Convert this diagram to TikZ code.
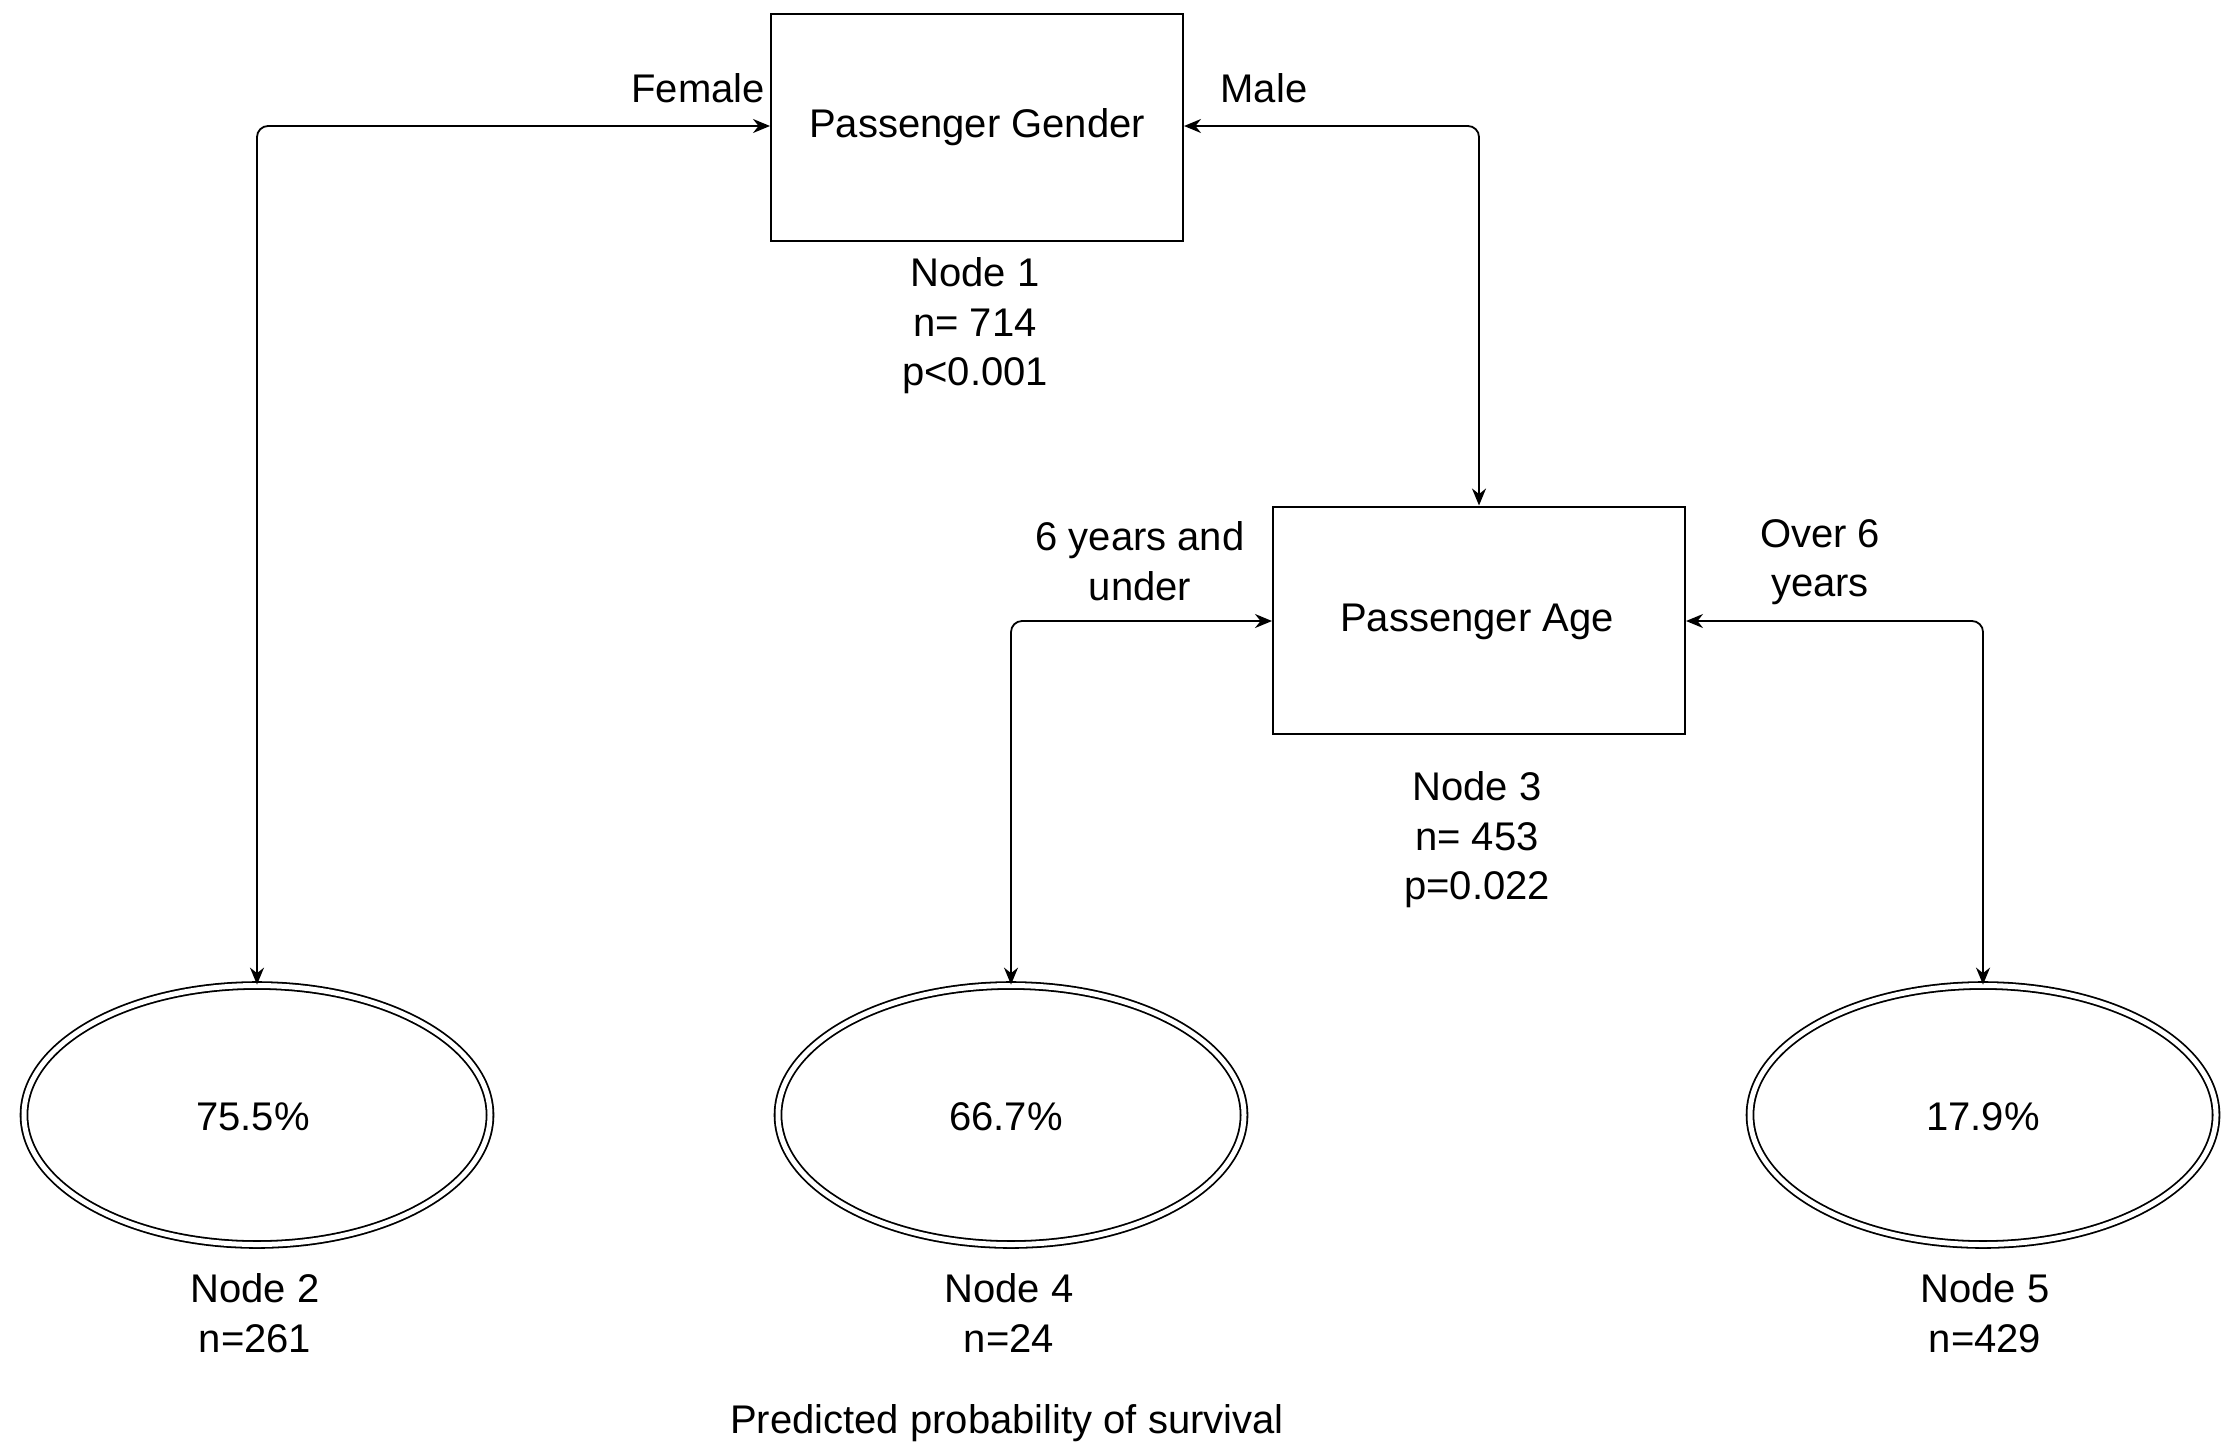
\documentclass[tikz,border=0pt]{standalone}
\usepackage{fontspec}
\setmainfont{Liberation Sans}
\usetikzlibrary{shapes.geometric,arrows.meta}
\begin{document}
\begin{tikzpicture}[x=1pt,y=-1pt,
  every node/.style={font=\fontsize{40}{49.5}\selectfont, inner sep=0pt},
  splitbox/.style={draw, line width=2pt, minimum width=412pt, minimum height=227pt},
  leaf/.style={ellipse, draw, double, double distance=5pt, line width=1.8pt, minimum width=466pt, minimum height=259pt},
  lbl/.style={align=center},
  conn/.style={line width=1.8pt, rounded corners=11pt, {Stealth[length=17pt,width=14pt]}-{Stealth[length=17pt,width=14pt]}}
]
\useasboundingbox (0,0) rectangle (2221,1444);
% split nodes
\node[splitbox] (n1) at (977,127) {};
\node at (977,127) (n1t) {Passenger Gender};
\node[lbl] (n1l) at (975,326) {Node 1\\n= 714\\p<0.001};
\node[splitbox] (n3) at (1479,620) {};
\node at (1477,622) (n3t) {Passenger Age};
\node[lbl] (n3l) at (1477,840) {Node 3\\n= 453\\p=0.022};
% leaves
\node[leaf] (e2) at (257,1115) {};
\node (e2t) at (253,1117) {75.5\%};
\node[lbl] (e2l) at (255,1313) {Node 2\\n=261};
\node[leaf] (e4) at (1011,1115) {};
\node (e4t) at (1006,1117) {66.7\%};
\node[lbl] (e4l) at (1009,1313) {Node 4\\n=24};
\node[leaf] (e5) at (1983,1115) {};
\node (e5t) at (1983,1117) {17.9\%};
\node[lbl] (e5l) at (1985,1313) {Node 5\\n=429};
% branch labels
\node[anchor=east] (lf) at (765,88) {Female};
\node (lm) at (1264,88) {Male};
\node[lbl] (ly) at (1140,561) {6 years and\\under};
\node[lbl] (lo) at (1820,562) {Over 6\\years};
% connectors
\draw[conn] (n1.west |- 0,126) -| (e2.north);
\draw[conn] (n1.east |- 0,126) -| (n3.north);
\draw[conn] (n3.west |- 0,621) -| (e4.north);
\draw[conn] (n3.east |- 0,621) -| (e5.north);
% caption
\node (cap) at (1007,1423) {Predicted probability of survival};
\end{tikzpicture}
\end{document}
